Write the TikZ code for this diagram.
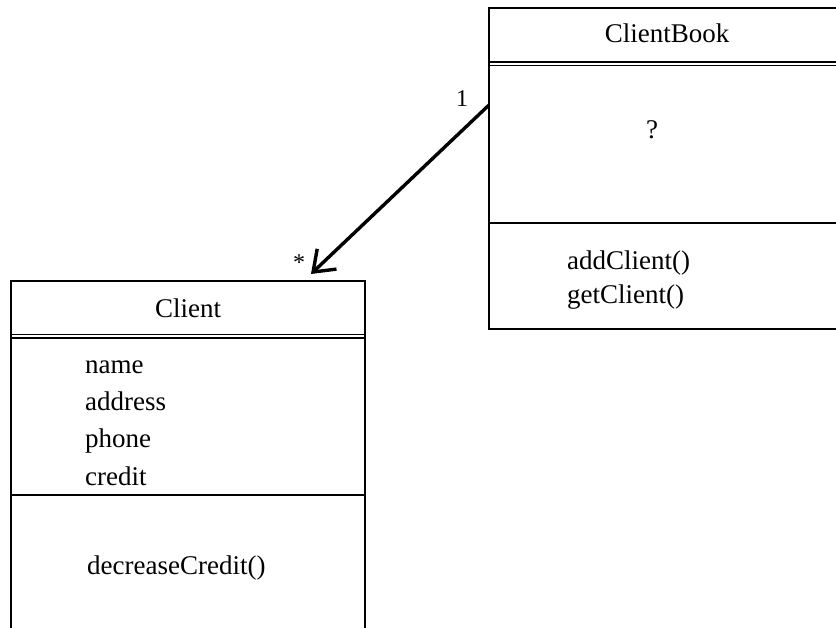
\documentclass[tikz,border=0pt]{standalone}
\usepackage{fontspec}
\setmainfont{Liberation Serif}
\usetikzlibrary{arrows.meta}
\begin{document}
\begin{tikzpicture}[x=1pt,y=-1pt,
  box/.style={draw=black,line width=1.6pt},
  sep/.style={draw=black,line width=1.6pt},
  txt/.style={inner sep=0pt,font=\fontsize{27}{32}\selectfont},
  lbl/.style={inner sep=0pt,font=\fontsize{24}{28}\selectfont},
  assoc/.style={draw=black,line width=3.4pt,-{Straight Barb[length=19pt,width=28pt,line width=3.4pt]}}]
\useasboundingbox (0,0) rectangle (836,628);
\clip (0,0) rectangle (836,628);
% ClientBook
\draw[box] (489,8) rectangle (860,329);
\draw[sep] (489,62) -- (860,62);
\draw[sep] (489,65.5) -- (860,65.5);
\draw[sep] (489,223) -- (860,223);
\node[txt,anchor=base] (cbname) at (667,43) {ClientBook};
\node[txt,anchor=base] (cbq) at (652,139) {?};
\node[txt,anchor=base west] (cbm1) at (567,270) {addClient()};
\node[txt,anchor=base west] (cbm2) at (567,304) {getClient()};
% Client
\draw[box] (11,281) rectangle (365,660);
\draw[sep] (11,334.5) -- (365,334.5);
\draw[sep] (11,338) -- (365,338);
\draw[sep] (11,495) -- (365,495);
\node[txt,anchor=base] (cname) at (188,318) {Client};
\node[txt,anchor=base west] (a1) at (85,374) {name};
\node[txt,anchor=base west] (a2) at (85,411) {address};
\node[txt,anchor=base west] (a3) at (85,448) {phone};
\node[txt,anchor=base west] (a4) at (85,485) {credit};
\node[txt,anchor=base west] (m1) at (87,574) {decreaseCredit()};
% association
\coordinate (s) at (489,105);
\coordinate (t) at (311,274);
\draw[assoc] (s) -- (t);
\node[lbl,anchor=base] (one) at (462,107) {1};
\node[lbl,anchor=base] (star) at (299,271) {*};
\end{tikzpicture}
\end{document}
